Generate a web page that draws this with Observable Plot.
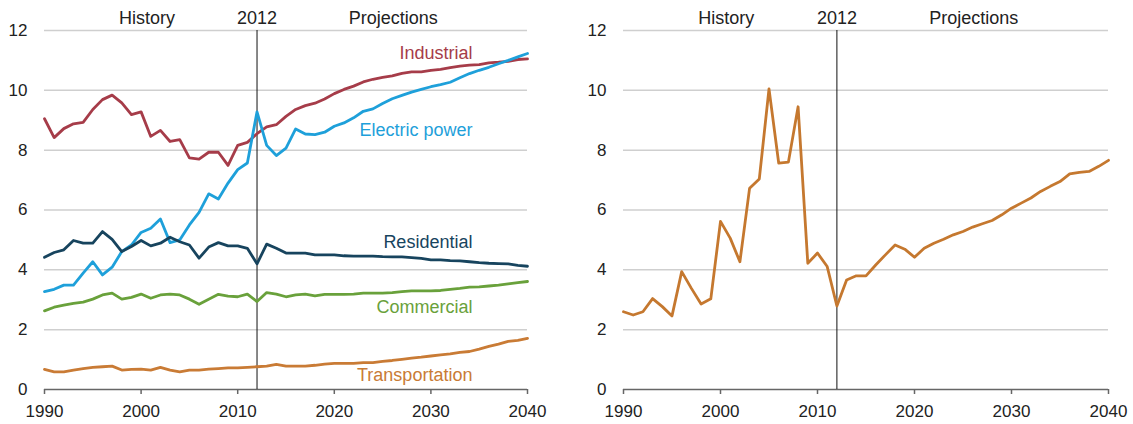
<!DOCTYPE html>
<html>
<head>
<meta charset="utf-8">
<script src="https://cdn.jsdelivr.net/npm/d3@7"></script>
<script src="https://cdn.jsdelivr.net/npm/@observablehq/plot@0.6"></script>
<style>
  html, body { margin: 0; padding: 0; background: #fff; }
  #wrap { display: flex; width: 1133px; height: 424px; }
  svg { display: block; }
</style>
</head>
<body>
<div id="wrap"></div>
<script>
const years = [1990,1991,1992,1993,1994,1995,1996,1997,1998,1999,
  2000,2001,2002,2003,2004,2005,2006,2007,2008,2009,
  2010,2011,2012,2013,2014,2015,2016,2017,2018,2019,
  2020,2021,2022,2023,2024,2025,2026,2027,2028,2029,
  2030,2031,2032,2033,2034,2035,2036,2037,2038,2039,2040];

const industrial = [9.05,8.42,8.72,8.88,8.93,9.36,9.69,9.84,9.58,9.19,
  9.28,8.46,8.66,8.29,8.35,7.74,7.70,7.93,7.93,7.49,
  8.16,8.26,8.55,8.78,8.85,9.13,9.36,9.49,9.57,9.71,
  9.89,10.03,10.14,10.28,10.37,10.43,10.48,10.57,10.62,10.62,
  10.67,10.70,10.76,10.81,10.84,10.86,10.92,10.94,10.97,11.03,11.05];

const electricPower = [3.27,3.35,3.49,3.49,3.89,4.27,3.83,4.09,4.61,4.83,
  5.25,5.39,5.70,4.91,5.00,5.50,5.92,6.54,6.37,6.90,
  7.35,7.57,9.28,8.16,7.82,8.07,8.71,8.54,8.52,8.60,
  8.80,8.91,9.08,9.30,9.38,9.56,9.72,9.83,9.94,10.03,
  10.12,10.19,10.27,10.42,10.56,10.67,10.77,10.89,11.00,11.12,11.23];

const residential = [4.42,4.58,4.67,4.98,4.89,4.89,5.28,5.02,4.61,4.78,
  4.98,4.80,4.89,5.09,4.94,4.83,4.39,4.76,4.91,4.80,
  4.80,4.72,4.20,4.86,4.72,4.56,4.56,4.56,4.50,4.50,
  4.50,4.47,4.46,4.46,4.46,4.44,4.43,4.43,4.41,4.38,
  4.33,4.33,4.31,4.30,4.27,4.24,4.22,4.21,4.20,4.15,4.12];

const commercial = [2.63,2.75,2.82,2.88,2.92,3.02,3.16,3.22,3.02,3.08,
  3.19,3.05,3.16,3.19,3.16,3.02,2.85,3.02,3.18,3.12,
  3.10,3.19,2.94,3.24,3.19,3.10,3.16,3.19,3.13,3.18,
  3.18,3.18,3.19,3.22,3.22,3.22,3.24,3.27,3.30,3.30,
  3.30,3.31,3.35,3.38,3.42,3.43,3.46,3.49,3.53,3.57,3.61];

const transportation = [0.67,0.59,0.59,0.65,0.70,0.74,0.76,0.78,0.65,0.67,
  0.68,0.65,0.74,0.65,0.59,0.65,0.65,0.68,0.70,0.72,
  0.72,0.74,0.76,0.78,0.84,0.78,0.78,0.78,0.81,0.85,
  0.87,0.87,0.87,0.90,0.90,0.94,0.97,1.01,1.05,1.08,
  1.12,1.16,1.19,1.24,1.27,1.35,1.44,1.52,1.61,1.64,1.71];

const rightSeries = [2.60,2.49,2.60,3.04,2.77,2.46,3.94,3.38,2.86,3.03,
  5.62,5.06,4.27,6.73,7.04,10.05,7.57,7.60,9.45,4.22,
  4.56,4.11,2.79,3.66,3.80,3.80,4.16,4.50,4.83,4.69,
  4.42,4.72,4.89,5.02,5.17,5.28,5.43,5.54,5.65,5.84,
  6.06,6.23,6.40,6.62,6.79,6.95,7.21,7.26,7.29,7.46,7.66];

const seriesNames = ["Industrial", "Electric power", "Residential", "Commercial", "Transportation"];
const seriesValues = [industrial, electricPower, residential, commercial, transportation];
const seriesColors = ["#a63c49", "#1ea0da", "#17445e", "#69a13b", "#c97b35"];
// label anchors (data coordinates)
const labelYear = [2034.3, 2034.3, 2034.3, 2034.3, 2034.3];
const labelValue = [11.23, 8.65, 4.93, 2.75, 0.47];

const xTicks = [1990, 2000, 2010, 2020, 2030, 2040];
const yTicks = [0, 2, 4, 6, 8, 10, 12];
const topLabels = ["History", "2012", "Projections"];
const topLabelYears = [2000.6, 2012, 2026.1];
const markerYear = 2012;

const font = "'Liberation Sans', Arial, sans-serif";

function basePlot({width, marginLeft, marginRight, marks}) {
  return Plot.plot({
    width, height: 424,
    marginTop: 30, marginBottom: 35, marginLeft, marginRight,
    style: {fontFamily: font, fontSize: "17px", color: "#222", background: "#fff", overflow: "visible"},
    x: {domain: [1990, 2040]},
    y: {domain: [0, 12]},
    color: {domain: seriesNames, range: seriesColors},
    marks: [
      Plot.gridY(yTicks.filter(d => d > 0), {stroke: "#cfcfcf", strokeOpacity: 1, strokeWidth: 1.5}),
      Plot.axisY(yTicks, {tickSize: 0, tickPadding: 17, label: null, fill: "#222", fontSize: 17}),
      Plot.axisX(xTicks, {tickSize: 5, tickPadding: 10, label: null, tickFormat: d => String(d), stroke: "#666", strokeWidth: 1.5, fill: "#222", fontSize: 17}),
      Plot.ruleY([0], {stroke: "#666", strokeWidth: 1.5}),
      Plot.ruleX([markerYear], {y1: 0, y2: 12, stroke: "#111", strokeWidth: 1}),
      Plot.text(topLabels, {x: (d, i) => topLabelYears[i], text: d => d, frameAnchor: "top", lineAnchor: "middle", dy: -12, fill: "#222", fontSize: 18}),
      ...marks
    ]
  });
}

const rowsLeft = [];
seriesNames.forEach((name, s) => {
  years.forEach((yr, i) => rowsLeft.push({series: name, year: yr, value: seriesValues[s][i]}));
});

const left = basePlot({
  width: 566, marginLeft: 44, marginRight: 39,
  marks: [
    Plot.line(rowsLeft, {x: "year", y: "value", z: "series", stroke: "series", strokeWidth: 2.8, strokeLinejoin: "round", strokeLinecap: "round"}),
    Plot.text(seriesNames, {x: (d, i) => labelYear[i], y: (d, i) => labelValue[i], text: d => d, fill: d => seriesColors[seriesNames.indexOf(d)], textAnchor: "end", fontSize: 18})
  ]
});

const rowsRight = years.map((yr, i) => ({year: yr, value: rightSeries[i]}));
const right = basePlot({
  width: 567, marginLeft: 57, marginRight: 25,
  marks: [
    Plot.line(rowsRight, {x: "year", y: "value", stroke: "#c5782f", strokeWidth: 2.8, strokeLinejoin: "round", strokeLinecap: "round"})
  ]
});

document.getElementById("wrap").append(left, right);
</script>
</body>
</html>
